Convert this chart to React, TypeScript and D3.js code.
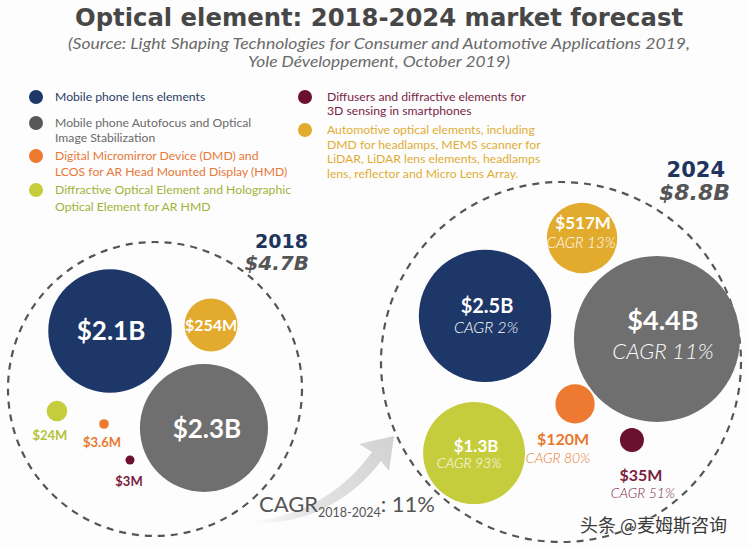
import React from "react";
import * as d3 from "d3";

// ---------- data ----------
const segments = [
  "Mobile phone lens elements",
  "Mobile phone AF / OIS",
  "DMD and LCOS for AR HMD",
  "DOE and HOE for AR HMD",
  "3D sensing diffusers",
  "Automotive optical elements",
];
const values2018 = [2100, 2300, 3.6, 24, 3, 254]; // $M
const values2024 = [2500, 4400, 120, 1300, 35, 517]; // $M
const cagr = ["CAGR 2%", "CAGR 11%", "CAGR 80%", "CAGR 93%", "CAGR 51%", "CAGR 13%"];
const labels2018 = ["$2.1B", "$2.3B", "$3.6M", "$24M", "$3M", "$254M"];
const labels2024 = ["$2.5B", "$4.4B", "$120M", "$1.3B", "$35M", "$517M"];
const years = ["2018", "2024"];
const totals = ["$4.7B", "$8.8B"];
const legendLines = [
  ["Mobile phone lens elements"],
  ["Mobile phone Autofocus and Optical", "Image Stabilization"],
  ["Digital Micromirror Device (DMD) and", "LCOS for AR Head Mounted Display (HMD)"],
  ["Diffractive Optical Element and Holographic", "Optical Element for AR HMD"],
  ["Diffusers and diffractive elements for", "3D sensing in smartphones"],
  [
    "Automotive optical elements, including",
    "DMD for headlamps, MEMS scanner for",
    "LiDAR, LiDAR lens elements, headlamps",
    "lens, reflector and Micro Lens Array.",
  ],
];
const overallCagr = "11%";

// ---------- styles ----------
const fillColors = ["#1d3768", "#6f6f6f", "#ee7a31", "#c6cd3c", "#6c1030", "#e2ab2e"];
const dotColors = ["#1d3768", "#585858", "#ee7a31", "#c6cd3c", "#6c1030", "#e2ab2e"];
const textColors = ["#2a3c66", "#6a6a6a", "#e8793a", "#9fb33a", "#7a1f45", "#e0ad35"];
const label18Colors = ["#fff", "#fff", "#e8792f", "#b5c23a", "#7b1d3f", "#fff"];
const label24Colors = ["#fff", "#fff", "#e8792f", "#fff", "#7b1d3f", "#fff"];

const FONT = "Lato, 'Open Sans', sans-serif";
const HEAD = "'DejaVu Sans', Verdana, sans-serif";

// layout (relative to group circle, in units of group radius)
const groups = [
  { cx: 155, cy: 389, R: 147 },
  { cx: 561, cy: 362, R: 180 },
];
const offsets2018 = [
  [-0.306, -0.395], [0.333, 0.265], [-0.347, 0.238], [-0.667, 0.15], [-0.17, 0.483], [0.381, -0.435],
];
const offsets2024 = [
  [-0.422, -0.256], [0.533, -0.128], [0.078, 0.233], [-0.483, 0.506], [0.394, 0.433], [0.117, -0.689],
];
// label: [dx, dy, size] ; cagr: [dx, dy, size]
const lab2018 = [
  [1, 9, 26], [3, 10, 26], [-2, 23, 13], [-7, 29, 13], [-1, 26, 13], [0, 6, 16],
];
const lab2024 = [
  [2, -3, 20], [6, -9, 27], [-12, 41, 16], [2, -1, 17], [9, 41, 16], [1, -9, 17],
];
const cagrPos = [
  [1, 17, 16], [6, 20, 22], [-17, 59, 14], [-5, 15, 14], [11, 58, 14], [-1, 10, 15],
];

export default function App() {
  const W = 750, H = 548;
  const r = d3.scalePow().exponent(0.4).domain([0, 4400]).range([0, 83]);
  const dash = "7 6";

  const circles = (vals: number[], offs: number[][], g: { cx: number; cy: number; R: number }) =>
    vals.map((v, i) => ({
      i,
      x: g.cx + offs[i][0] * g.R,
      y: g.cy + offs[i][1] * g.R,
      r: r(v),
    }));
  const c18 = circles(values2018, offsets2018, groups[0]);
  const c24 = circles(values2024, offsets2024, groups[1]);

  const legendX = [[36, 55], [305, 327]];
  const legendRows = [
    { col: 0, y: 97 }, { col: 0, y: 123 }, { col: 0, y: 156 }, { col: 0, y: 190 },
    { col: 1, y: 97 }, { col: 1, y: 130 },
  ];
  const lineH = [15, 15, 16, 17, 14, 14.7];

  return (
    <svg
      width={W}
      height={H}
      style={{ position: "absolute", left: 0, top: 0, background: "#fff" }}
    >
      <defs>
        <linearGradient id="arrowGrad" x1="245" y1="520" x2="395" y2="440" gradientUnits="userSpaceOnUse">
          <stop offset="0" stopColor="#ffffff" />
          <stop offset="0.35" stopColor="#e4e4e4" />
          <stop offset="1" stopColor="#d2d2d2" />
        </linearGradient>
      </defs>
      <rect width={W} height={H} fill="#fdfdfd" />

      {/* title */}
      <text x={379} y={26} textAnchor="middle" fontFamily={HEAD} fontWeight="bold" fontSize={25}
        fill="#474747" textLength={608} lengthAdjust="spacingAndGlyphs">
        Optical element: 2018-2024 market forecast
      </text>
      <text x={379} y={49} textAnchor="middle" fontFamily={FONT} fontStyle="italic" fontSize={15}
        fill="#6a6a6a" textLength={622} lengthAdjust="spacingAndGlyphs">
        (Source: Light Shaping Technologies for Consumer and Automotive Applications 2019,
      </text>
      <text x={379} y={67} textAnchor="middle" fontFamily={FONT} fontStyle="italic" fontSize={15}
        fill="#6a6a6a" textLength={262} lengthAdjust="spacingAndGlyphs">
        Yole Développement, October 2019)
      </text>

      {/* legend */}
      {legendRows.map((row, i) => (
        <g key={segments[i]}>
          <circle cx={legendX[row.col][0]} cy={row.y} r={7} fill={dotColors[i]} />
          {legendLines[i].map((ln, j) => (
            <text key={j} x={legendX[row.col][1]} y={row.y + 4 + j * lineH[i]} fontFamily={FONT}
              fontSize={12.2} fill={textColors[i]}>
              {ln}
            </text>
          ))}
        </g>
      ))}

      {/* group dashed circles */}
      {groups.map((g, k) => (
        <circle key={k} cx={g.cx} cy={g.cy} r={g.R} fill="none" stroke="#555" strokeWidth={2.2}
          strokeDasharray={dash} />
      ))}

      {/* arrow */}
      <path
        d="M245,521 C300,520 345,490 372,452 L359,444 L394,436 L389,471 L381,461 C352,500 305,527 245,523 Z"
        fill="url(#arrowGrad)"
      />

      {/* year labels */}
      <text x={308} y={248} textAnchor="end" fontFamily={HEAD} fontWeight="bold" fontSize={19} fill="#1f3560">
        {years[0]}
      </text>
      <text x={309} y={270} textAnchor="end" fontFamily={HEAD} fontWeight="bold" fontStyle="italic"
        fontSize={20} fill="#555">
        {totals[0]}
      </text>
      <text x={725} y={177} textAnchor="end" fontFamily={HEAD} fontWeight="bold" fontSize={21} fill="#1f3560">
        {years[1]}
      </text>
      <text x={730} y={200} textAnchor="end" fontFamily={HEAD} fontWeight="bold" fontStyle="italic"
        fontSize={22} fill="#555">
        {totals[1]}
      </text>

      {/* 2018 bubbles */}
      {c18.map((c) => (
        <g key={"a" + c.i}>
          <circle cx={c.x} cy={c.y} r={c.r} fill={fillColors[c.i]} />
          <text x={c.x + lab2018[c.i][0]} y={c.y + lab2018[c.i][1]} textAnchor="middle" fontFamily={FONT}
            fontWeight="bold" fontSize={lab2018[c.i][2]} fill={label18Colors[c.i]}>
            {labels2018[c.i]}
          </text>
        </g>
      ))}

      {/* 2024 bubbles */}
      {c24.map((c) => (
        <g key={"b" + c.i}>
          <circle cx={c.x} cy={c.y} r={c.r} fill={fillColors[c.i]} />
          <text x={c.x + lab2024[c.i][0]} y={c.y + lab2024[c.i][1]} textAnchor="middle" fontFamily={FONT}
            fontWeight="bold" fontSize={lab2024[c.i][2]} fill={label24Colors[c.i]}>
            {labels2024[c.i]}
          </text>
          <text x={c.x + cagrPos[c.i][0]} y={c.y + cagrPos[c.i][1]} textAnchor="middle" fontFamily={FONT}
            fontStyle="italic" fontWeight={300} fontSize={cagrPos[c.i][2]} fill={label24Colors[c.i]}>
            {cagr[c.i]}
          </text>
        </g>
      ))}

      {/* overall CAGR */}
      <text x={259} y={512} fontFamily={FONT} fontSize={22} fill="#555">
        CAGR
        <tspan fontSize={12.5} dy={5}>2018-2024</tspan>
        <tspan dy={-5}>: {overallCagr}</tspan>
      </text>

      {/* watermark */}
      <text x={580} y={532} fontFamily="'Noto Sans CJK SC', sans-serif" fontSize={18} fill="#3a3a3a"
        stroke="#fff" strokeWidth={0.6} paintOrder="stroke">
        头条 @麦姆斯咨询
      </text>
    </svg>
  );
}
